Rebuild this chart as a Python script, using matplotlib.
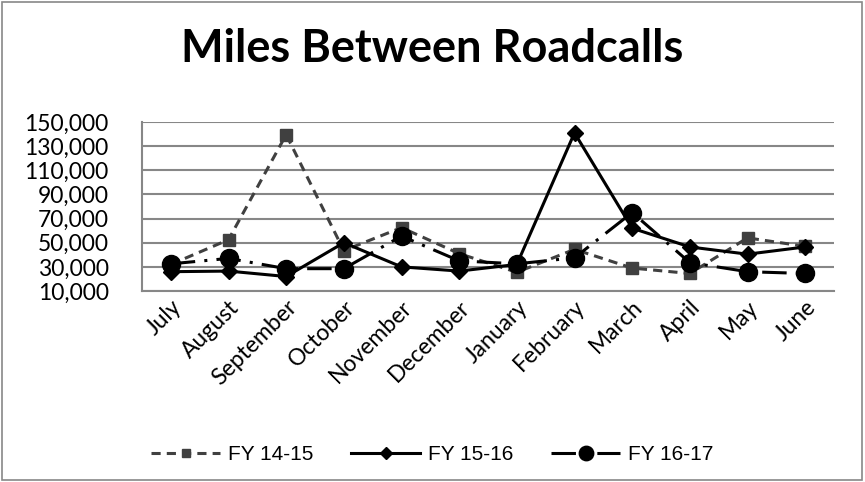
import matplotlib
matplotlib.use("Agg")
import matplotlib.pyplot as plt
from matplotlib.ticker import FuncFormatter
from matplotlib.patches import Rectangle

months = ["July", "August", "September", "October", "November", "December",
          "January", "February", "March", "April", "May", "June"]

fy_14_15 = [32000, 52500, 139500, 43500, 62500, 41000,
            25500, 44500, 29000, 24500, 54000, 47000]
fy_15_16 = [26000, 26500, 22000, 50000, 30000, 26500,
            32000, 141000, 62000, 46500, 40500, 46500]
fy_16_17 = [32500, 37000, 28500, 28500, 55500, 35000,
            32500, 37500, 75000, 33500, 26000, 24500]

y_ticks = [10000, 30000, 50000, 70000, 90000, 110000, 130000, 150000]

grid_col = "#878787"

fig = plt.figure(figsize=(8.65, 4.82), dpi=100)
ax = fig.add_axes([142 / 865, 1 - 291 / 482, (834 - 142) / 865, (291 - 122) / 482])

x = list(range(len(months)))
ax.plot(x, fy_14_15, color="#404040", linestyle=(0, (3, 2)), linewidth=2.2,
        marker="s", markersize=8, label="FY 14-15")
ax.plot(x, fy_15_16, color="black", linestyle="-", linewidth=2.2,
        marker="D", markersize=8, label="FY 15-16")
ax.plot(x, fy_16_17, color="black", linestyle=(0, (8, 3, 1, 3)), linewidth=2.2,
        marker="o", markersize=13, label="FY 16-17")

ax.set_xlim(-0.5, len(months) - 0.5)
ax.set_ylim(10000, 150000)
ax.set_yticks(y_ticks)
ax.yaxis.set_major_formatter(FuncFormatter(lambda v, p: f"{int(v):,}"))
ax.grid(axis="y", color=grid_col, linewidth=1.5)
ax.set_axisbelow(True)
for s in ["top", "right"]:
    ax.spines[s].set_visible(False)
for s in ["left", "bottom"]:
    ax.spines[s].set_color(grid_col)
    ax.spines[s].set_linewidth(1.5)

ax.set_xticks(x)
ax.set_xticklabels(months, rotation=45, ha="right", rotation_mode="anchor",
                   fontsize=16.5, family="Lato")
ax.tick_params(axis="both", length=0)
ax.tick_params(axis="x", pad=4)
ax.tick_params(axis="y", pad=24)
for lbl in ax.get_yticklabels():
    lbl.set_family("Lato")
    lbl.set_fontsize(16.5)

fig.text(0.5, 1 - 49 / 482, "Miles Between Roadcalls", ha="center", va="center",
         fontsize=32.5, fontweight="bold", family="Lato")

leg = fig.legend(loc="center", bbox_to_anchor=(0.5, 1 - 455 / 482), ncol=3,
                 frameon=False, handlelength=3.3, columnspacing=1.8,
                 handletextpad=0.4, markerscale=0.8,
                 prop={"family": ["Liberation Sans Narrow", "Liberation Sans"], "size": 15})

fig.patches.append(Rectangle((2 / 865, 2 / 482), 860 / 865, 478 / 482,
                             transform=fig.transFigure, fill=False,
                             edgecolor="#888888", linewidth=1.2))

fig.savefig("out.png", dpi=100)
